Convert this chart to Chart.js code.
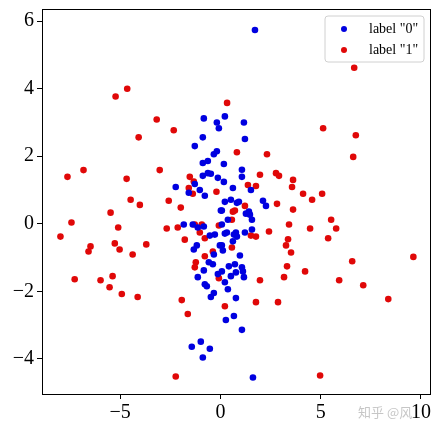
<!DOCTYPE html>
<html>
<head>
<meta charset="utf-8">
<script src="https://cdn.jsdelivr.net/npm/chart.js@4.4.0/dist/chart.umd.min.js"></script>
<style>
  html, body { margin: 0; padding: 0; background: #fff; }
  #wrap { position: relative; width: 440px; height: 434px; }
</style>
</head>
<body>
<div id="wrap"><canvas id="scatter" width="440" height="434"></canvas></div>
<script>
// label "0" (blue)
const blueX = [1.72, 0.22, 1.17, 1.22, 0.17, 1.07, 1.07, 0.17, 1.52, 0.62, 2.12, 2.27, 0.22, 0.52, 0.82, 0.92,
  0.07, 1.27, 1.42, 1.47, 1.57, 0.37, 1.62, 0.67, 0.27, 1.07, 0.77, 0.37, 0.22, 0.52, 0.77, 0.72, 0.42, 1.07,
  1.12, 1.17, 0.97, 0.07, 0.12, 0.07, 0.77, 0.82, 0.67, 0.62, 0.22, 0.32, 1.22, 1.57, -1.43, -0.98, -0.53, -0.88,
  -1.83, -1.38, -1.13, -0.83, -0.53, -0.28, -1.33, -1.18, -0.33, -0.58, -0.38, -0.83, -1.13, -0.78, -0.68, -0.33,
  -0.48, -0.13, -0.03, -0.83, -0.18, -0.08, -0.88, -1.28, -0.18, -0.33, -0.63, -0.88, -0.63, -0.48, -0.88, -0.13,
  -2.23, -1.28, -1.03, -1.58, -0.78, 0.02, 0.07];
const blueY = [5.74, 3.18, 3.0, 2.51, 1.77, 1.6, 1.39, 1.24, 1.0, 1.06, 0.68, 0.53, 0.65, 0.71, 0.62, 0.65,
  0.39, 0.30, 0.36, 0.27, 0.12, 0.12, -4.55, -2.73, -2.85, -3.14, -2.2, -1.94, -1.73, -1.55, -1.44, -1.2, -1.26, -1.29,
  -1.41, -1.58, -0.94, -1.41, -0.79, -0.64, -0.26, -0.38, -0.32, -0.52, -0.29, -0.26, -0.26, -0.17, -3.64, -3.49, -3.7, -3.96,
  -0.02, -0.02, -0.11, -0.08, -0.35, -0.32, -0.76, -0.64, -0.91, -1.14, -1.2, -1.38, -1.58, -1.79, -1.85, -2.05,
  -2.17, -1.49, -0.64, 3.12, 3.0, 2.83, 2.56, 2.3, 2.15, 2.06, 1.86, 1.8, 1.5, 1.48, 1.42, 1.36,
  1.09, 1.18, 1.0, 0.92, 0.83, 0.39, -0.02];

// label "1" (red)
const redX = [-5.23, -4.65, -3.18, -2.33, -4.08, -7.63, -6.83, -4.68, -3.03, -4.48, -4.02, -2.58, -1.98, -5.48,
  -1.53, -1.58, -1.38, -1.33, -0.2, -7.43, -7.98, -5.1, -2.68, -2.13, -6.48, -6.58, -5.27, -5.03, -3.7, -4.38,
  -1.78, -7.27, -5.98, -5.38, -5.53, -4.92, -4.13, -1.93, -1.63, -2.23, -1.28, -0.93, -1.03, -0.78, -0.08,
  -1.23, -1.28, -0.78, -0.38, -0.08, 6.67, 0.33, 5.12, 6.75, 6.62, 0.82, 2.32, 1.97, 2.77, 2.92, 3.62, 3.57,
  1.37, 1.77, 4.12, 5.07, 4.57, 2.82, 3.62, 5.52, 1.22, 0.62, 0.72, 0.57, 5.77, 5.37, 4.47, 3.42, 2.42, 3.37,
  3.27, 3.52, 9.62, 6.57, 3.32, 4.22, 3.17, 1.97, 5.92, 7.12, 8.37, 1.77, 2.87, 0.22, 4.97, 0.57, 1.52, 1.77];
const redY = [3.77, 4.0, 3.09, 2.77, 2.56, 1.39, 1.59, 1.33, 1.59, 0.71, 0.56, 0.68, 0.48, 0.33,
  1.39, 1.06, 0.89, 1.25, 0.95, 0.04, -0.38, -0.11, -0.14, -0.11, -0.67, -0.82, -0.58, -0.76, -0.61, -0.91,
  -0.47, -1.64, -1.67, -1.55, -1.88, -2.08, -2.17, -2.26, -2.67, -4.52, -0.02, -0.02, -0.26, -0.43, -0.05,
  -1.14, -1.29, -0.96, -0.82, -1.61, 4.62, 3.58, 2.83, 2.62, 1.98, 2.12, 2.06, 1.45, 1.5, 1.42, 1.3, 1.09,
  1.15, 1.12, 0.89, 0.89, 0.71, 0.59, 0.42, 0.12, 0.53, 0.36, 0.39, 0.12, -0.14, -0.43, -0.14, -0.02, -0.23, -0.46,
  -0.64, -0.85, -0.98, -1.11, -1.26, -1.41, -1.58, -1.67, -1.67, -1.82, -2.23, -2.32, -2.32, -2.44, -4.49, -0.7, -0.35, -0.38];

const labels = ['label "0"', 'label "1"'];
const xTicks = [-5, 0, 5, 10];
const yTicks = [-4, -2, 0, 2, 4, 6];

const pts = (xs, ys) => xs.map((x, i) => ({ x: x, y: ys[i] }));
const fmt = v => (v < 0 ? '\u2212' + Math.abs(v) : String(v));
const tickFont = { family: '"Liberation Serif", "DejaVu Serif", serif', size: 20 };

// frame around the plot + legend box in the upper right
const framePlugin = {
  id: 'frame',
  afterDatasetsDraw(chart) {
    const ctx = chart.ctx, a = chart.chartArea;
    ctx.save();
    ctx.strokeStyle = '#000';
    ctx.lineWidth = 1;
    ctx.strokeRect(a.left + 0.5, a.top + 0.5, a.right - a.left, a.bottom - a.top);

    // legend
    const bx = a.right - 105, by = a.top + 7, bw = 99, bh = 46, r = 3;
    ctx.fillStyle = 'rgba(255,255,255,0.8)';
    ctx.strokeStyle = '#d0d0d0';
    ctx.beginPath();
    ctx.moveTo(bx + r, by);
    ctx.arcTo(bx + bw, by, bx + bw, by + bh, r);
    ctx.arcTo(bx + bw, by + bh, bx, by + bh, r);
    ctx.arcTo(bx, by + bh, bx, by, r);
    ctx.arcTo(bx, by, bx + bw, by, r);
    ctx.closePath();
    ctx.fill();
    ctx.stroke();
    ctx.font = '14px "Liberation Serif", serif';
    ctx.textBaseline = 'middle';
    chart.data.datasets.forEach((ds, i) => {
      const yy = by + 13 + i * 21;
      ctx.fillStyle = ds.backgroundColor;
      ctx.beginPath();
      ctx.arc(bx + 19, yy, 3, 0, Math.PI * 2);
      ctx.fill();
      ctx.fillStyle = '#000';
      ctx.fillText(ds.label, bx + 44, yy);
    });
    ctx.restore();
  }
};

new Chart(document.getElementById('scatter'), {
  type: 'scatter',
  data: {
    datasets: [
      { label: labels[0], data: pts(blueX, blueY), backgroundColor: '#0000e0', pointRadius: 3.3, borderWidth: 0 },
      { label: labels[1], data: pts(redX, redY), backgroundColor: '#e00808', pointRadius: 3.3, borderWidth: 0 }
    ]
  },
  options: {
    responsive: false,
    animation: false,
    layout: { padding: { top: 9, right: 10, left: 0, bottom: 0 } },
    plugins: {
      legend: { display: false },
      tooltip: { enabled: false }
    },
    scales: {
      x: {
        type: 'linear',
        min: -8.9,
        max: 10.45,
        afterBuildTicks: s => { s.ticks = xTicks.map(v => ({ value: v })); },
        afterFit: s => { s.height = 40; s.paddingLeft = 0; s.paddingRight = 0; },
        ticks: { color: '#000', font: tickFont, padding: 2, maxRotation: 0, callback: v => fmt(v) },
        grid: { display: true, drawOnChartArea: false, drawTicks: true, tickLength: 5, color: '#000' },
        border: { color: '#000' }
      },
      y: {
        type: 'linear',
        min: -5.04,
        max: 6.36,
        afterBuildTicks: s => { s.ticks = yTicks.map(v => ({ value: v })); },
        afterFit: s => { s.width = 42; s.paddingTop = 0; s.paddingBottom = 0; },
        ticks: { color: '#000', font: tickFont, padding: 3, callback: v => fmt(v) },
        grid: { display: true, drawOnChartArea: false, drawTicks: true, tickLength: 5, color: '#000' },
        border: { color: '#000' }
      }
    }
  },
  plugins: [framePlugin, {
    id: 'watermark',
    afterDraw(chart) {
      const ctx = chart.ctx;
      ctx.save();
      ctx.fillStyle = 'rgba(160,160,160,0.6)';
      ctx.font = '13px "Noto Sans CJK SC", sans-serif';
      ctx.textBaseline = 'middle';
      ctx.fillText('知乎 @风', 358, 412);
      ctx.restore();
    }
  }]
});
</script>
</body>
</html>
